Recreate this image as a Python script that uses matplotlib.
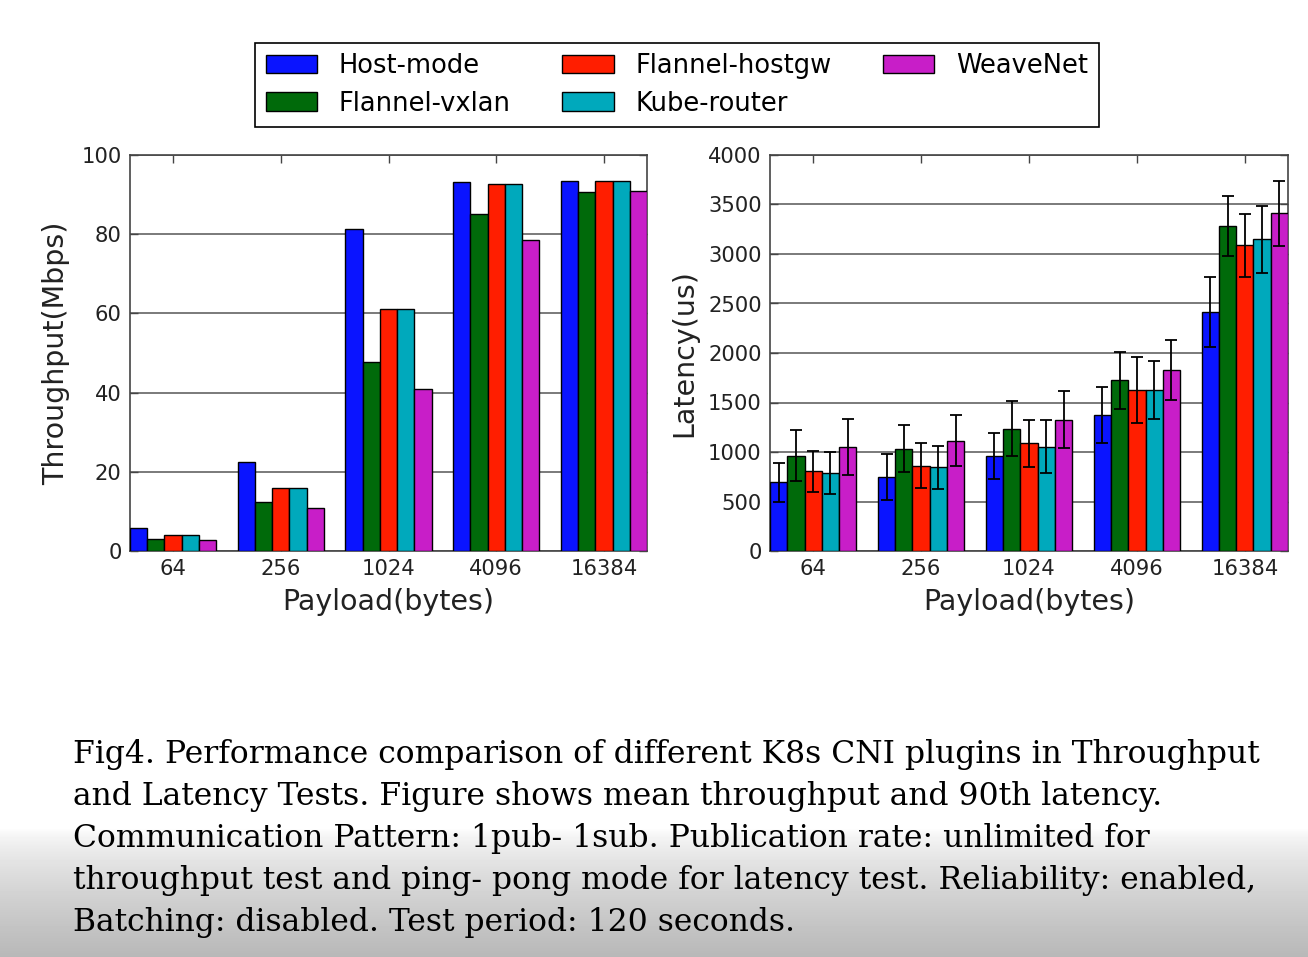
import numpy as np
import matplotlib
matplotlib.use("Agg")
import matplotlib.pyplot as plt

payloads = ["64", "256", "1024", "4096", "16384"]
plugins = ["Host-mode", "Flannel-vxlan", "Flannel-hostgw", "Kube-router", "WeaveNet"]
colors = ["#0a14ff", "#006a0a", "#ff1e00", "#00a9bc", "#c81ec8"]

# mean throughput (Mbps)
thr_host = [5.7, 22.5, 81.2, 93.1, 93.4]
thr_vxlan = [3.1, 12.5, 47.7, 85.1, 90.7]
thr_hostgw = [4.0, 16.0, 61.1, 92.7, 93.4]
thr_kube = [4.05, 16.0, 61.1, 92.7, 93.4]
thr_weave = [2.7, 10.9, 41.0, 78.5, 90.8]

# 90th latency (us) and error
lat_host = [692, 750, 959, 1372, 2416]
lat_vxlan = [963, 1034, 1236, 1723, 3284]
lat_hostgw = [804, 861, 1088, 1625, 3088]
lat_kube = [787, 845, 1054, 1628, 3149]
lat_weave = [1051, 1115, 1328, 1828, 3412]

err_host = [195, 230, 235, 280, 355]
err_vxlan = [260, 240, 280, 290, 300]
err_hostgw = [205, 225, 240, 330, 320]
err_kube = [215, 220, 270, 290, 340]
err_weave = [280, 260, 285, 300, 330]

caption = ["Fig4. Performance comparison of different K8s CNI plugins in Throughput",
           "and Latency Tests. Figure shows mean throughput and 90th latency.",
           "Communication Pattern: 1pub- 1sub. Publication rate: unlimited for",
           "throughput test and ping- pong mode for latency test. Reliability: enabled,",
           "Batching: disabled. Test period: 120 seconds."]

thr = [thr_host, thr_vxlan, thr_hostgw, thr_kube, thr_weave]
lat = [lat_host, lat_vxlan, lat_hostgw, lat_kube, lat_weave]
err = [err_host, err_vxlan, err_hostgw, err_kube, err_weave]

W, H = 1308, 957
fig = plt.figure(figsize=(W / 100, H / 100), dpi=100)

# gray fade at the bottom (video overlay)
bg = fig.add_axes([0, 0, 1, 1], zorder=-10)
rows = np.ones(H)
y0 = 828
rows[y0:] = 1 - 0.28 * ((np.arange(y0, H) - y0) / (H - y0)) ** 0.7
bg.imshow(np.repeat(rows[:, None], 2, axis=1), cmap="gray", vmin=0, vmax=1,
          aspect="auto", extent=[0, 1, 0, 1], origin="upper")
bg.axis("off")

def fpos(x0, y0_, x1, y1):
    return [x0 / W, 1 - y1 / H, (x1 - x0) / W, (y1 - y0_) / H]

ax1 = fig.add_axes(fpos(130, 155, 647, 551))
ax2 = fig.add_axes(fpos(770, 155, 1288, 551))

x = np.arange(len(payloads))
w = 0.16
handles = []
for i in range(len(plugins)):
    b = ax1.bar(x + (i - 2) * w, thr[i], w, color=colors[i], edgecolor="black",
                linewidth=1.0, zorder=3, label=plugins[i])
    handles.append(b)
    ax2.bar(x + (i - 2) * w, lat[i], w, color=colors[i], edgecolor="black",
            linewidth=1.0, zorder=3, yerr=err[i],
            error_kw=dict(ecolor="black", elinewidth=1.3, capsize=4, capthick=1.3, zorder=4))

for ax, ylab, ymax, step, lp in [(ax1, "Throughput(Mbps)", 100, 20, 8), (ax2, "Latency(us)", 4000, 500, 7)]:
    ax.set_xlim(-2.5 * w, len(payloads) - 1 + 2.5 * w)
    ax.set_ylim(0, ymax)
    ax.set_yticks(np.arange(0, ymax + 1, step))
    ax.set_xticks(x)
    ax.set_xticklabels(payloads)
    ax.yaxis.grid(True, color="#7a7a7a", linewidth=1.4, zorder=0)
    ax.set_axisbelow(True)
    ax.tick_params(direction="in", top=True, right=True, length=6, width=1,
                   labelsize=15.2, labelcolor="#222222", color="#444444", pad=6)
    for s in ax.spines.values():
        s.set_color("#444444")
        s.set_linewidth(1.2)
    ax.set_xlabel("Payload(bytes)", fontsize=20.5, color="#222222", labelpad=6)
    ax.set_ylabel(ylab, fontsize=20.5, color="#222222", labelpad=lp)

fig.legend(handles, plugins, ncol=3, loc="upper center", bbox_to_anchor=(677 / W, 1 - 43 / H),
           fontsize=18.5, frameon=True, fancybox=False, edgecolor="black", framealpha=1,
           handlelength=2.0, handleheight=0.72, handletextpad=0.85, columnspacing=2.0,
           borderpad=0.4, labelspacing=0.44, borderaxespad=0)
fig.legends[0].get_frame().set_linewidth(1.2)

baselines = [763, 805, 847, 889, 931]
for line, yb in zip(caption, baselines):
    fig.text(73 / W, 1 - yb / H, line, family="DejaVu Serif", fontsize=22.6,
             color="black", va="baseline", ha="left")

fig.savefig("out.png", dpi=100)
